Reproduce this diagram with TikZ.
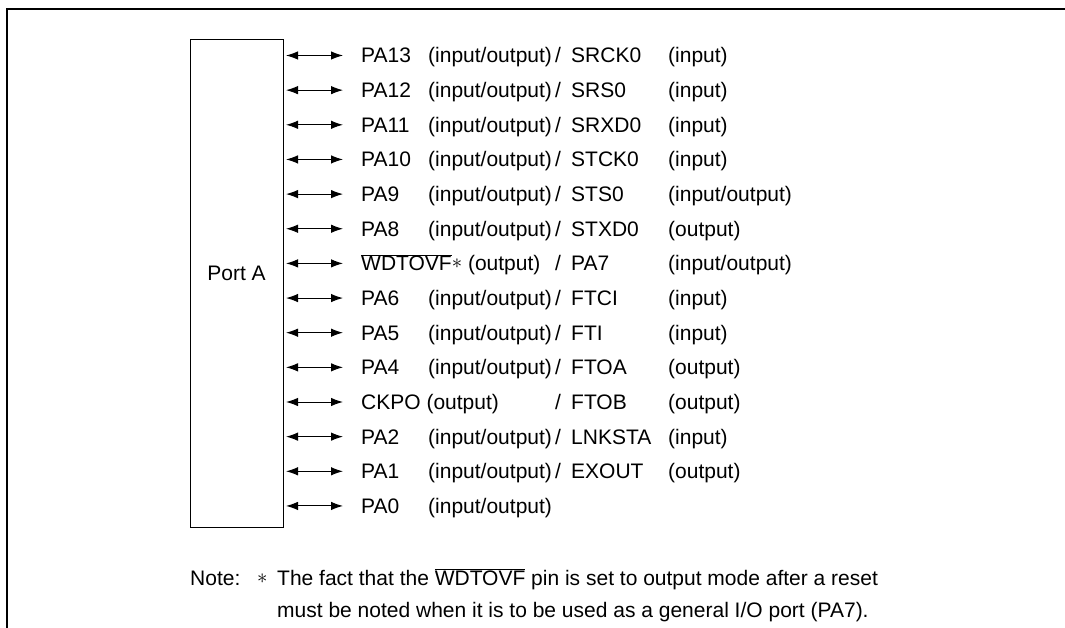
\documentclass[tikz,border=0pt]{standalone}
\usepackage{fontspec}
\setmainfont{Liberation Sans}
\usetikzlibrary{arrows.meta}
\newcommand\ovbar[1]{$\overline{\mbox{#1}}$}
\newcommand\astk{\raisebox{0.1em}{$\ast$}}
\begin{document}
\begin{tikzpicture}[x=1pt,y=-1pt,
  lbl/.style={anchor=base west,inner sep=0pt,font=\fontsize{21}{24}\selectfont},
  io/.style={{Latex[length=12pt,width=8.5pt]}-{Latex[length=12pt,width=8.5pt]},line width=1pt},
  frame/.style={line width=2pt}]
\useasboundingbox (0,0) rectangle (1065,628);
\draw[frame] (1065,9) -- (7,9) -- (7,628);
\node[draw,line width=1pt,minimum width=93pt,minimum height=487pt,inner sep=0pt] (port) at (236.5,283.5) {};
\node[lbl,anchor=base] (portlbl) at (236.5,280.5) {Port A};
% rows
\foreach \i in {1,...,14}{
  \coordinate (a\i) at (343,{55.5+34.65*(\i-1)});
  \coordinate (s\i) at (286,{55.5+34.65*(\i-1)});
  \draw[io] (s\i) -- (a\i);
}
\def\rb#1{{55.5+34.65*(#1-1)+7.5}}
\foreach \i/\n/\m/\f/\d in {
  1/PA13/(input\slash output)/SRCK0/(input),
  2/PA12/(input\slash output)/SRS0/(input),
  3/PA11/(input\slash output)/SRXD0/(input),
  4/PA10/(input\slash output)/STCK0/(input),
  5/PA9/(input\slash output)/STS0/(input\slash output),
  6/PA8/(input\slash output)/STXD0/(output),
  8/PA6/(input\slash output)/FTCI/(input),
  9/PA5/(input\slash output)/FTI/(input),
  10/PA4/(input\slash output)/FTOA/(output),
  12/PA2/(input\slash output)/LNKSTA/(input),
  13/PA1/(input\slash output)/EXOUT/(output)}{
  \node[lbl] (n\i) at (361,\rb{\i}) {\n};
  \node[lbl] (m\i) at (428,\rb{\i}) {\m};
  \node[lbl] (sl\i) at (555,\rb{\i}) {/};
  \node[lbl] (f\i) at (571,\rb{\i}) {\f};
  \node[lbl] (d\i) at (668,\rb{\i}) {\d};
}
\node[lbl] (n7) at (361,\rb{7}) {\ovbar{WDTOVF}\astk\ (output)};
\node[lbl] (sl7) at (555,\rb{7}) {/};
\node[lbl] (f7) at (571,\rb{7}) {PA7};
\node[lbl] (d7) at (668,\rb{7}) {(input/output)};
\node[lbl] (n11) at (361,\rb{11}) {CKPO (output)};
\node[lbl] (sl11) at (555,\rb{11}) {/};
\node[lbl] (f11) at (571,\rb{11}) {FTOB};
\node[lbl] (d11) at (668,\rb{11}) {(output)};
\node[lbl] (n14) at (361,\rb{14}) {PA0};
\node[lbl] (m14) at (428,\rb{14}) {(input/output)};
% note
\node[lbl] (note) at (190,585.5) {Note:};
\node[lbl] (star) at (257,585.5) {\astk};
\node[lbl] (l1) at (277,585.5) {The fact that the \ovbar{WDTOVF} pin is set to output mode after a reset};
\node[lbl] (l2) at (277,617.5) {must be noted when it is to be used as a general I/O port (PA7).};
\end{tikzpicture}
\end{document}
